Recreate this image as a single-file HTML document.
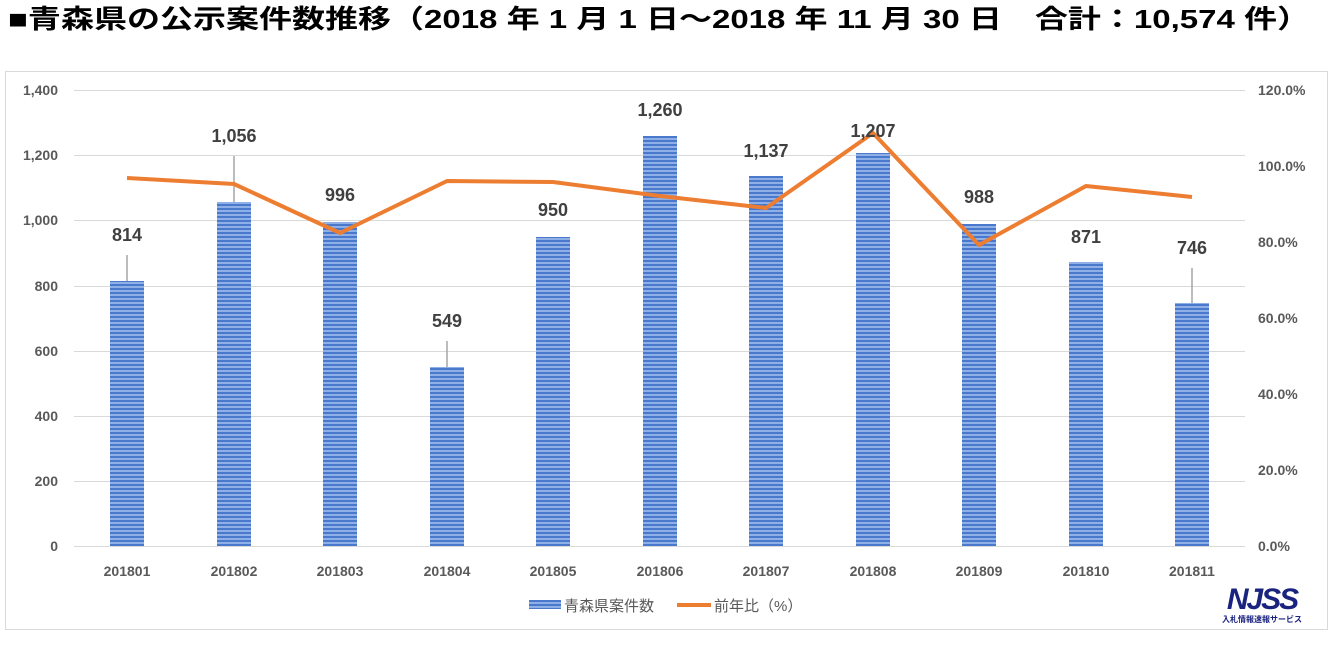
<!DOCTYPE html>
<html><head><meta charset="utf-8"><style>
body{margin:0;background:#fff;width:1336px;height:641px;overflow:hidden;font-family:"Liberation Sans","Noto Sans CJK JP",sans-serif}
</style></head><body>
<svg width="1336" height="641" xmlns="http://www.w3.org/2000/svg" font-family="Liberation Sans, Noto Sans CJK JP, sans-serif">
<defs>
<pattern id="st" width="4" height="4" patternUnits="userSpaceOnUse">
<rect width="4" height="4" fill="#8fb0e6"/><rect width="4" height="2" fill="#4a78cc"/>
</pattern>
</defs>
<text x="8" y="28" font-size="26" font-weight="bold" fill="#000" textLength="1302" lengthAdjust="spacingAndGlyphs">■青森県の公示案件数推移（2018 年 1 月 1 日～2018 年 11 月 30 日　合計：10,574 件）</text>
<rect x="5.5" y="71.5" width="1322" height="558" fill="#fff" stroke="#d9d9d9"/>
<g stroke="#d9d9d9" stroke-width="1">
<line x1="74" x2="1245" y1="546.5" y2="546.5"/>
<line x1="74" x2="1245" y1="481.5" y2="481.5"/>
<line x1="74" x2="1245" y1="416.5" y2="416.5"/>
<line x1="74" x2="1245" y1="351.5" y2="351.5"/>
<line x1="74" x2="1245" y1="286.5" y2="286.5"/>
<line x1="74" x2="1245" y1="220.5" y2="220.5"/>
<line x1="74" x2="1245" y1="155.5" y2="155.5"/>
<line x1="74" x2="1245" y1="90.5" y2="90.5"/>
</g>
<g font-size="14" font-weight="bold" fill="#595959" text-anchor="end">
<text x="58" y="551">0</text><text x="58" y="486">200</text><text x="58" y="421">400</text><text x="58" y="356">600</text><text x="58" y="291">800</text><text x="58" y="225">1,000</text><text x="58" y="160">1,200</text><text x="58" y="95">1,400</text>
</g>
<g font-size="14" font-weight="bold" fill="#595959">
<text x="1258" y="551">0.0%</text><text x="1258" y="475">20.0%</text><text x="1258" y="399">40.0%</text><text x="1258" y="323">60.0%</text><text x="1258" y="247">80.0%</text><text x="1258" y="171">100.0%</text><text x="1258" y="95">120.0%</text>
</g>
<g fill="url(#st)">
<rect x="110" y="281" width="34" height="265"/>
<rect x="217" y="202" width="34" height="344"/>
<rect x="323" y="222" width="34" height="324"/>
<rect x="430" y="367" width="34" height="179"/>
<rect x="536" y="237" width="34" height="309"/>
<rect x="643" y="136" width="34" height="410"/>
<rect x="749" y="176" width="34" height="370"/>
<rect x="856" y="153" width="34" height="393"/>
<rect x="962" y="224" width="34" height="322"/>
<rect x="1069" y="262" width="34" height="284"/>
<rect x="1175" y="303" width="34" height="243"/>
</g>
<g stroke="#a6a6a6" stroke-width="1.5">
<line x1="127" y1="255" x2="127" y2="281"/>
<line x1="234" y1="156" x2="234" y2="202"/>
<line x1="447" y1="341" x2="447" y2="367"/>
<line x1="1192" y1="268" x2="1192" y2="303"/>
</g>
<polyline fill="none" stroke="#ed7d31" stroke-width="4" stroke-linejoin="round" points="127,178 234,184 340,233 447,181 553,182 660,196 766,208 873,133 979,245 1086,186 1192,197"/>
<g font-size="18" font-weight="bold" fill="#404040" text-anchor="middle">
<text x="127" y="241">814</text><text x="234" y="142">1,056</text><text x="340" y="201">996</text><text x="447" y="327">549</text><text x="553" y="216">950</text><text x="660" y="116">1,260</text><text x="766" y="157">1,137</text><text x="873" y="137">1,207</text><text x="979" y="203">988</text><text x="1086" y="243">871</text><text x="1192" y="254">746</text>
</g>
<g font-size="14" font-weight="bold" fill="#595959" text-anchor="middle">
<text x="127" y="576">201801</text><text x="234" y="576">201802</text><text x="340" y="576">201803</text><text x="447" y="576">201804</text><text x="553" y="576">201805</text><text x="660" y="576">201806</text><text x="766" y="576">201807</text><text x="873" y="576">201808</text><text x="979" y="576">201809</text><text x="1086" y="576">201810</text><text x="1192" y="576">201811</text>
</g>
<rect x="529" y="600" width="32" height="9" fill="url(#st)"/>
<text x="564" y="611" font-size="15" fill="#595959">青森県案件数</text>
<line x1="677" y1="605" x2="711" y2="605" stroke="#ed7d31" stroke-width="4"/>
<text x="714" y="611" font-size="15" fill="#595959">前年比（%）</text>
<text x="1262" y="609" font-size="30" font-weight="bold" font-style="italic" fill="#1a237e" text-anchor="middle" letter-spacing="-2">NJSS</text>
<text x="1262" y="622" font-size="8" font-weight="bold" fill="#1a237e" text-anchor="middle">入札情報速報サービス</text>
</svg>
</body></html>
